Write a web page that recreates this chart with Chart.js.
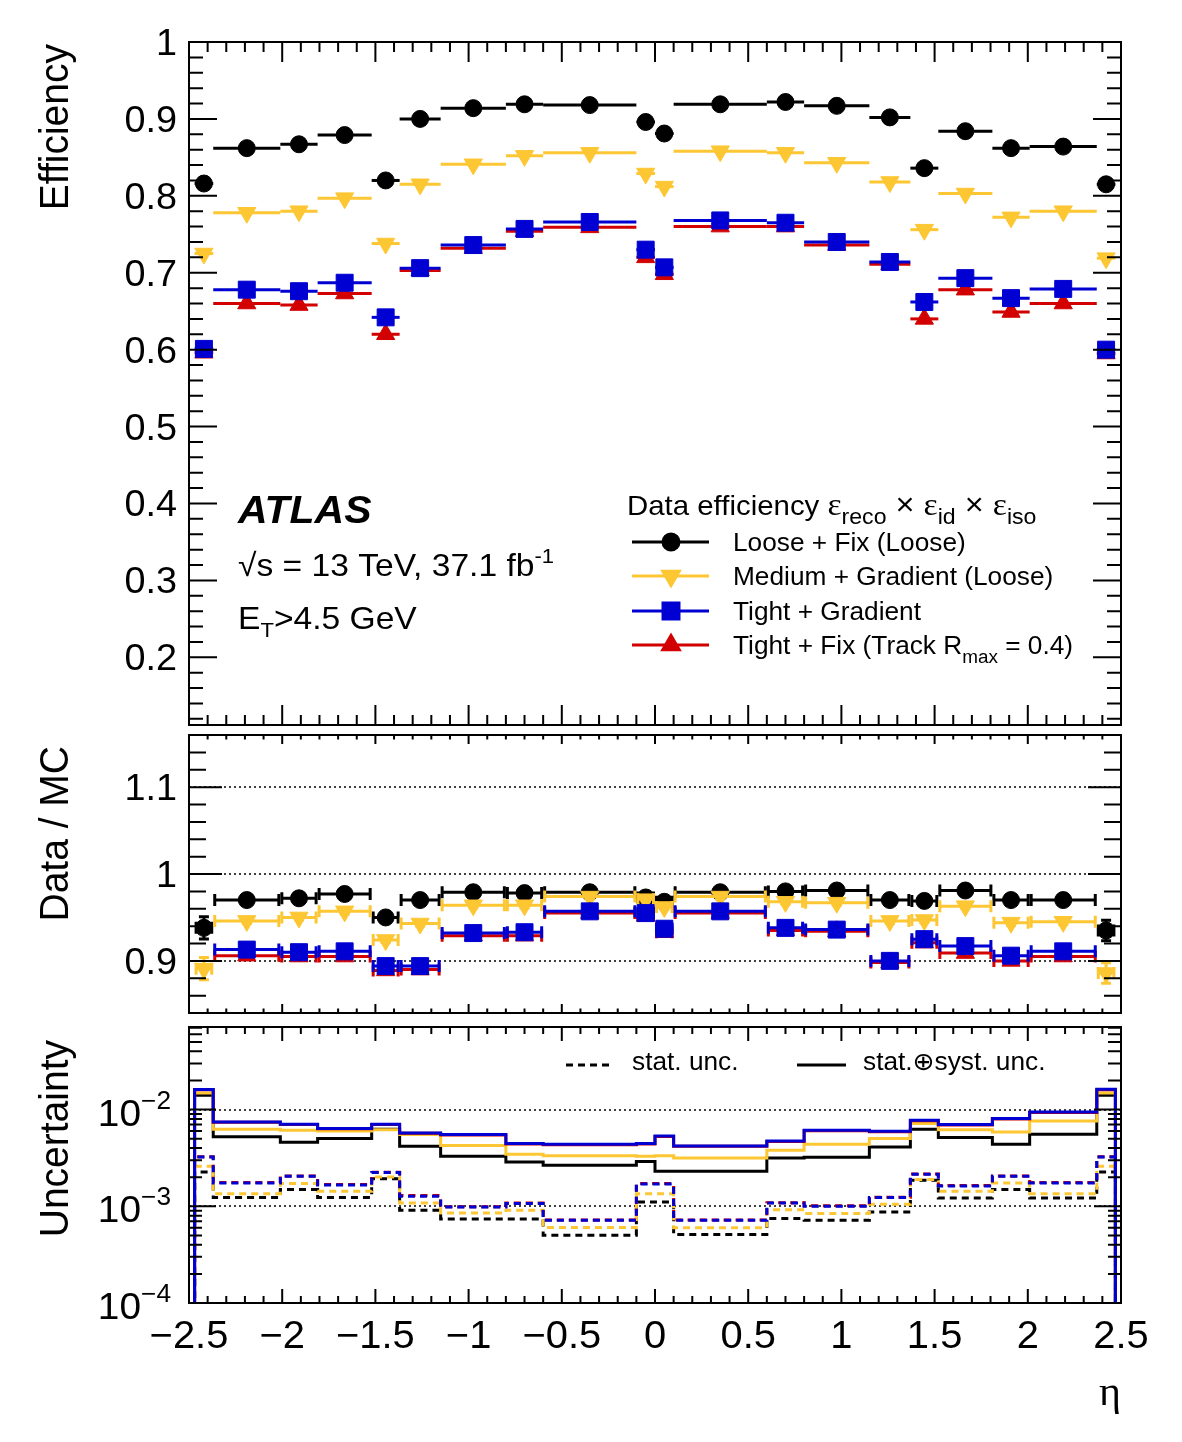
<!DOCTYPE html>
<html>
<head>
<meta charset="utf-8">
<script src="https://cdn.jsdelivr.net/npm/chart.js@4.4.1/dist/chart.umd.min.js"></script>
<style>
html,body{margin:0;padding:0;background:#fff;}
#wrap{position:relative;width:1182px;height:1442px;overflow:hidden;background:#fff;}
canvas{position:absolute;left:0;}
</style>
</head>
<body>
<div id="wrap">
<canvas id="c1" style="top:0px" width="1182" height="730"></canvas>
<canvas id="c2" style="top:730px" width="1182" height="290"></canvas>
<canvas id="c3" style="top:1020px" width="1182" height="422"></canvas>
</div>
<script>
// ---------------- DATA ----------------
const etaEdges = [-2.47,-2.37,-2.01,-1.81,-1.52,-1.37,-1.15,-0.8,-0.6,-0.1,0,0.1,0.6,0.8,1.15,1.37,1.52,1.81,2.01,2.37,2.47];
const etaMin = -2.5, etaMax = 2.5;
const xTickValues = [-2.5,-2,-1.5,-1,-0.5,0,0.5,1,1.5,2,2.5];
const xTickLabels = ['\u22122.5','\u22122','\u22121.5','\u22121','\u22120.5','0','0.5','1','1.5','2','2.5'];
const effTickValues = [0.2,0.3,0.4,0.5,0.6,0.7,0.8,0.9,1];
const effTickLabels = ['0.2','0.3','0.4','0.5','0.6','0.7','0.8','0.9','1'];
const ratioTickValues = [0.9,1,1.1];
const ratioTickLabels = ['0.9','1','1.1'];
const uncTickValues = [1e-4,1e-3,1e-2];
const uncTickExponents = ['\u22124','\u22123','\u22122'];

const seriesLabels = ['Loose + Fix (Loose)','Medium + Gradient (Loose)','Tight + Gradient','Tight + Fix (Track R_max = 0.4)'];

// Data efficiency
const effLoose     = [0.816,0.862,0.867,0.879,0.820,0.900,0.914,0.919,0.918,0.896,0.881,0.919,0.922,0.917,0.902,0.836,0.884,0.862,0.864,0.815];
const effMedium    = [0.725,0.778,0.780,0.797,0.738,0.815,0.841,0.852,0.856,0.829,0.812,0.858,0.856,0.843,0.818,0.756,0.803,0.772,0.780,0.719];
const effTightGrad = [0.601,0.678,0.676,0.687,0.642,0.706,0.736,0.757,0.766,0.730,0.707,0.768,0.765,0.740,0.714,0.662,0.693,0.667,0.679,0.600];
const effTightFix  = [0.596,0.660,0.658,0.673,0.620,0.703,0.732,0.754,0.759,0.720,0.698,0.760,0.760,0.736,0.711,0.640,0.678,0.649,0.660,0.595];

// Data / MC
const sfLoose     = [0.938,0.970,0.972,0.977,0.950,0.970,0.979,0.978,0.979,0.973,0.968,0.979,0.980,0.981,0.970,0.969,0.981,0.970,0.970,0.935];
const sfMedium    = [0.891,0.946,0.950,0.957,0.924,0.943,0.964,0.964,0.974,0.971,0.962,0.974,0.968,0.967,0.946,0.947,0.963,0.944,0.945,0.886];
const sfTightGrad = [null,0.913,0.910,0.911,0.894,0.894,0.932,0.933,0.957,0.955,0.937,0.957,0.938,0.936,0.900,0.925,0.917,0.906,0.911,null];
const sfTightFix  = [null,0.906,0.905,0.905,0.889,0.890,0.929,0.929,0.955,0.952,0.933,0.955,0.935,0.934,0.898,0.921,0.909,0.900,0.905,null];
const sfErrLoose     = [0.014,0.004,0.004,0.004,0.004,0.004,0.004,0.004,0.004,0.004,0.004,0.004,0.004,0.004,0.004,0.004,0.004,0.004,0.004,0.013];
const sfErrMedium    = [0.014,0.004,0.004,0.004,0.004,0.004,0.004,0.004,0.004,0.004,0.004,0.004,0.004,0.004,0.004,0.004,0.004,0.004,0.004,0.013];
const sfErrTightGrad = [null,0.004,0.004,0.004,0.004,0.004,0.004,0.004,0.004,0.004,0.004,0.004,0.004,0.004,0.004,0.004,0.004,0.004,0.004,null];
const sfErrTightFix  = [null,0.004,0.004,0.004,0.004,0.004,0.004,0.004,0.004,0.004,0.004,0.004,0.004,0.004,0.004,0.004,0.004,0.004,0.004,null];

// Uncertainty: stat (+) syst
const uncTotLoose     = [0.0141,0.00522,0.00459,0.00501,0.00625,0.00417,0.00329,0.00287,0.00265,0.0029,0.0023,0.0023,0.00316,0.00321,0.0041,0.00625,0.00513,0.00438,0.00556,0.0141];
const uncTotMedium    = [0.0148,0.00625,0.00611,0.00602,0.0062,0.00551,0.00425,0.00345,0.00334,0.0033,0.00334,0.00316,0.0038,0.00438,0.00501,0.00716,0.0062,0.00586,0.00762,0.0148];
const uncTotTightGrad = [0.0161,0.00745,0.00705,0.00637,0.00705,0.00573,0.00551,0.00445,0.00438,0.00445,0.00534,0.00421,0.00473,0.00611,0.00596,0.00774,0.0070,0.00807,0.00944,0.0162];
const uncTotTightFix  = [0.0160,0.00740,0.00700,0.00632,0.00700,0.00568,0.00546,0.00440,0.00434,0.00440,0.00528,0.00417,0.00468,0.00605,0.00590,0.00766,0.00694,0.00800,0.00935,0.0160];
// Uncertainty: stat only
const uncStatLoose     = [0.00226,0.00123,0.00149,0.00123,0.00193,0.00091,0.00074,0.00074,0.000501,0.00111,0.00111,0.00051,0.000746,0.000716,0.000873,0.00186,0.00122,0.00149,0.00122,0.00226];
const uncStatMedium    = [0.0026,0.00135,0.00172,0.00143,0.00201,0.00108,0.000853,0.00091,0.000603,0.00135,0.00135,0.0006,0.00092,0.00084,0.00105,0.00189,0.00143,0.00174,0.00135,0.0026];
const uncStatTightGrad = [0.00324,0.00174,0.00204,0.00166,0.00223,0.00127,0.000985,0.00107,0.000716,0.0017,0.0017,0.000716,0.00108,0.001,0.00123,0.00214,0.00162,0.00204,0.00174,0.00324];
const uncStatTightFix  = [0.00326,0.00176,0.00206,0.00168,0.00225,0.00129,0.00099,0.00108,0.00072,0.00172,0.00172,0.00072,0.00109,0.00101,0.00124,0.00216,0.00164,0.00206,0.00176,0.00326];
const emptyBin = 1e-6; // empty (zero) bins outside |eta|<2.47

// ---------------- STYLE ----------------
const C_BLACK = '#000000', C_YELLOW = '#fdc633', C_BLUE = '#0000d2', C_RED = '#d20000';
const SX = 1.05;
const SANS = '"Liberation Sans", "DejaVu Sans", Arial, sans-serif';
const SERIF = '"Liberation Serif", "DejaVu Serif", serif';

const styles = [
  {color:C_BLACK, ps:'circle', r:8.5, rot:0, order:3},
  {color:C_YELLOW, ps:'triangle', r:10.5, rot:180, order:2},
  {color:C_BLUE, ps:'rect', r:12, rot:0, order:0},
  {color:C_RED, ps:'triangle', r:10.5, rot:0, order:1}
];

const binLo = etaEdges.slice(0,-1), binHi = etaEdges.slice(1);
const centers = binLo.map((e,i)=>(e+binHi[i])/2);

function drawRich(ctx, x, y, segs, align){
  let total = 0;
  const ws = segs.map(s=>{ctx.font=(s.st||'')+' '+s.s+'px '+(s.f||SANS); const w=ctx.measureText(s.t).width*SX; total+=w; return w;});
  let cx = align==='right' ? x-total : (align==='center' ? x-total/2 : x);
  segs.forEach((s,i)=>{
    ctx.save();
    ctx.font=(s.st||'')+' '+s.s+'px '+(s.f||SANS);
    ctx.textAlign='left'; ctx.textBaseline='alphabetic';
    ctx.translate(cx, y+(s.dy||0)); ctx.scale(SX,1);
    ctx.fillText(s.t,0,0);
    ctx.restore();
    cx += ws[i];
  });
  return total;
}
function vTitle(ctx, text, x, y, size){
  ctx.save();
  ctx.fillStyle='#000';
  ctx.font = size+'px '+SANS;
  ctx.translate(x,y); ctx.scale(SX,1); ctx.rotate(-Math.PI/2);
  ctx.textAlign='right'; ctx.textBaseline='alphabetic';
  ctx.fillText(text,0,0);
  ctx.restore();
}
function marker(ctx, st, x, y){
  ctx.save();
  ctx.fillStyle=st.color; ctx.strokeStyle=st.color;
  Chart.helpers.drawPoint(ctx,{pointStyle:st.ps, radius:st.r, rotation:st.rot, borderWidth:1},x,y);
  ctx.restore();
}

// error bars drawn right before each dataset's markers
const errPlugin = {
  id:'errbars',
  beforeDatasetDraw(chart, args){
    const ds = chart.data.datasets[args.index];
    if(!ds.binLo) return;
    const xs=chart.scales.x, ys=chart.scales.y, ctx=chart.ctx, a=chart.chartArea;
    ctx.save();
    ctx.beginPath(); ctx.rect(a.left,a.top,a.right-a.left,a.bottom-a.top); ctx.clip();
    ctx.strokeStyle=ds.borderColor; ctx.lineWidth=3; ctx.lineCap='butt';
    ds.data.forEach((p,i)=>{
      if(p.y===null||p.y===undefined) return;
      const y=ys.getPixelForValue(p.y);
      const x0=xs.getPixelForValue(ds.binLo[i]), x1=xs.getPixelForValue(ds.binHi[i]);
      ctx.beginPath(); ctx.moveTo(x0,y); ctx.lineTo(x1,y);
      if(ds.capH){
        ctx.moveTo(x0+1.5,y-ds.capH); ctx.lineTo(x0+1.5,y+ds.capH);
        ctx.moveTo(x1-1.5,y-ds.capH); ctx.lineTo(x1-1.5,y+ds.capH);
      }
      if(ds.yErr && ds.yErr[i]){
        const xc=xs.getPixelForValue(p.x);
        const ya=ys.getPixelForValue(p.y+ds.yErr[i]), yb=ys.getPixelForValue(p.y-ds.yErr[i]);
        ctx.moveTo(xc,ya); ctx.lineTo(xc,yb);
        ctx.moveTo(xc-5,ya+1); ctx.lineTo(xc+5,ya+1);
        ctx.moveTo(xc-5,yb-1); ctx.lineTo(xc+5,yb-1);
      }
      ctx.stroke();
    });
    ctx.restore();
  }
};

function makeDeco(cfg){
  return {
    id:'deco',
    beforeDatasetsDraw(chart){
      const ctx=chart.ctx, a=chart.chartArea, ys=chart.scales.y;
      ctx.save();
      ctx.strokeStyle='#000'; ctx.lineWidth=1.5; ctx.setLineDash([2,3]);
      (cfg.dotted||[]).forEach(v=>{const y=Math.round(ys.getPixelForValue(v)); ctx.beginPath(); ctx.moveTo(a.left,y); ctx.lineTo(a.right,y); ctx.stroke();});
      ctx.restore();
    },
    afterDatasetsDraw(chart){
      const ctx=chart.ctx, a=chart.chartArea, xs=chart.scales.x, ys=chart.scales.y;
      ctx.save();
      ctx.setLineDash([]);
      ctx.strokeStyle='#000'; ctx.lineWidth=2;
      ctx.beginPath();
      for(let k=-25;k<=25;k++){
        const x=xs.getPixelForValue(k/10);
        const L=(k%5===0)?cfg.xTick[0]:cfg.xTick[1];
        ctx.moveTo(x,a.top); ctx.lineTo(x,a.top+L);
        ctx.moveTo(x,a.bottom); ctx.lineTo(x,a.bottom-L);
      }
      cfg.yMajor.forEach(v=>{const y=ys.getPixelForValue(v); ctx.moveTo(a.left,y); ctx.lineTo(a.left+cfg.yTick[0],y); ctx.moveTo(a.right,y); ctx.lineTo(a.right-cfg.yTick[0],y);});
      cfg.yMinor.forEach(v=>{const y=ys.getPixelForValue(v); ctx.moveTo(a.left,y); ctx.lineTo(a.left+cfg.yTick[1],y); ctx.moveTo(a.right,y); ctx.lineTo(a.right-cfg.yTick[1],y);});
      ctx.stroke();
      ctx.strokeRect(a.left,a.top,a.right-a.left,a.bottom-a.top);
      ctx.fillStyle='#000';
      if(cfg.yLabels) cfg.yLabels.forEach(l=>{const y=ys.getPixelForValue(l.v); drawRich(ctx,177,y+13,[{t:l.t,s:36}],'right');});
      if(cfg.extra) cfg.extra(ctx,chart);
      ctx.restore();
    }
  };
}

function pointDs(i, vals, errs, capH){
  const st=styles[i];
  return {
    label: seriesLabels[i],
    data: vals.map((v,k)=>({x:centers[k], y:v})),
    backgroundColor: st.color, borderColor: st.color,
    pointStyle: st.ps, pointRadius: st.r, pointRotation: st.rot, pointBorderWidth: 1,
    pointHoverRadius: st.r, showLine:false, order: st.order,
    binLo: binLo, binHi: binHi, yErr: errs, capH: capH
  };
}
function histPoints(vals){
  const pts=[{x:etaMin,y:emptyBin},{x:etaEdges[0],y:emptyBin}];
  vals.forEach((v,i)=>{pts.push({x:etaEdges[i],y:v}); pts.push({x:etaEdges[i+1],y:v});});
  pts.push({x:etaEdges[etaEdges.length-1],y:emptyBin}); pts.push({x:etaMax,y:emptyBin});
  return pts;
}
function histDs(i, vals, dashed){
  const st=styles[i];
  return {
    label: seriesLabels[i]+(dashed?' stat':' total'),
    data: histPoints(vals), borderColor: st.color, backgroundColor: st.color,
    borderWidth: 3, borderDash: dashed?[7,5]:[], pointRadius:0, showLine:true, tension:0,
    order: st.order, fill:false
  };
}

const baseOpts = (pad, ymin, ymax, ytype) => ({
  responsive:false, animation:false, events:[],
  layout:{padding:pad, autoPadding:false},
  scales:{
    x:{type:'linear', min:etaMin, max:etaMax, display:false},
    y:{type:ytype||'linear', min:ymin, max:ymax, display:false}
  },
  plugins:{legend:{display:false}, tooltip:{enabled:false}}
});

function range(k0,k1,step,skip){const r=[];for(let k=k0;k<=k1;k++){if(skip&&skip(k))continue;r.push(+(k*step).toFixed(4));}return r;}

// ---------------- PANEL 1 ----------------
new Chart(document.getElementById('c1'),{
  type:'scatter',
  data:{datasets:[
    pointDs(0,effLoose,null,0), pointDs(1,effMedium,null,0),
    pointDs(2,effTightGrad,null,0), pointDs(3,effTightFix,null,0)
  ]},
  options: baseOpts({left:189,right:61,top:42,bottom:5},0.112,1),
  plugins:[errPlugin, makeDeco({
    xTick:[20,10], yTick:[28,14],
    yMajor: effTickValues, yMinor: range(6,49,0.02,k=>k%5===0),
    yLabels: effTickValues.map((v,i)=>({v:v,t:effTickLabels[i]})),
    extra(ctx){
      vTitle(ctx,'Efficiency',68,44,39);
      drawRich(ctx,238,523,[{t:'ATLAS',s:39,st:'italic bold'}],'left');
      drawRich(ctx,238,576,[{t:'\u221As = 13 TeV, 37.1 fb',s:32},{t:'-1',s:21,dy:-13}],'left');
      drawRich(ctx,238,629,[{t:'E',s:32},{t:'T',s:21,dy:8},{t:'>4.5 GeV',s:32}],'left');
      // legend
      drawRich(ctx,627,515,[
        {t:'Data efficiency ',s:28},{t:'\u03B5',s:32,f:SERIF},{t:'reco',s:22,dy:9},
        {t:' \u00D7 ',s:31},{t:'\u03B5',s:32,f:SERIF},{t:'id',s:22,dy:9},
        {t:' \u00D7 ',s:31},{t:'\u03B5',s:32,f:SERIF},{t:'iso',s:22,dy:9}],'left');
      const rows=[542,576,611,645];
      rows.forEach((y,i)=>{
        ctx.save(); ctx.strokeStyle=styles[i].color; ctx.lineWidth=3;
        ctx.beginPath(); ctx.moveTo(632,y); ctx.lineTo(709,y); ctx.stroke(); ctx.restore();
        marker(ctx,styles[i],671,y);
        ctx.fillStyle='#000';
        if(i===3){
          drawRich(ctx,733,y+9,[{t:'Tight + Fix (Track R',s:25},{t:'max',s:18,dy:9},{t:' = 0.4)',s:25}],'left');
        } else {
          drawRich(ctx,733,y+9,[{t:seriesLabels[i],s:25}],'left');
        }
      });
    }
  })]
});

// ---------------- PANEL 2 ----------------
new Chart(document.getElementById('c2'),{
  type:'scatter',
  data:{datasets:[
    pointDs(0,sfLoose,sfErrLoose,6), pointDs(1,sfMedium,sfErrMedium,6),
    pointDs(2,sfTightGrad,sfErrTightGrad,6), pointDs(3,sfTightFix,sfErrTightFix,6)
  ]},
  options: baseOpts({left:189,right:61,top:5,bottom:7},0.84,1.16),
  plugins:[errPlugin, makeDeco({
    xTick:[9,4.5], yTick:[33,17],
    yMajor: ratioTickValues, yMinor: range(43,57,0.02,k=>k%5===0),
    dotted: ratioTickValues,
    yLabels: ratioTickValues.map((v,i)=>({v:v,t:ratioTickLabels[i]})),
    extra(ctx){ vTitle(ctx,'Data / MC',68,16,39); }
  })]
});

// ---------------- PANEL 3 ----------------
const logMinor=[]; [-4,-3,-2].forEach(e=>{for(let m=2;m<=9;m++){const v=m*Math.pow(10,e); if(v<0.0714) logMinor.push(v);}});
new Chart(document.getElementById('c3'),{
  type:'scatter',
  data:{datasets:[
    histDs(0,uncTotLoose,false), histDs(1,uncTotMedium,false),
    histDs(2,uncTotTightGrad,false), histDs(3,uncTotTightFix,false),
    histDs(0,uncStatLoose,true), histDs(1,uncStatMedium,true),
    histDs(2,uncStatTightGrad,true), histDs(3,uncStatTightFix,true)
  ]},
  options: baseOpts({left:189,right:61,top:7,bottom:139},1e-4,0.0714,'logarithmic'),
  plugins:[makeDeco({
    xTick:[14,7], yTick:[27,13],
    yMajor: uncTickValues, yMinor: logMinor,
    dotted: [1e-3,1e-2],
    extra(ctx,chart){
      const xs=chart.scales.x, ys=chart.scales.y;
      vTitle(ctx,'Uncertainty',68,20,39);
      uncTickValues.forEach((v,i)=>{
        const y=ys.getPixelForValue(v);
        drawRich(ctx,171,y+16,[{t:'10',s:37},{t:uncTickExponents[i],s:25,dy:-17}],'right');
      });
      xTickValues.forEach((v,i)=>{
        drawRich(ctx,xs.getPixelForValue(v),328,[{t:xTickLabels[i],s:38}],'center');
      });
      drawRich(ctx,1121,385,[{t:'\u03B7',s:40,f:SERIF}],'right');
      // uncertainty legend
      ctx.save(); ctx.strokeStyle='#000'; ctx.lineWidth=3;
      ctx.setLineDash([7,5]); ctx.beginPath(); ctx.moveTo(566,45); ctx.lineTo(612,45); ctx.stroke();
      ctx.setLineDash([]); ctx.beginPath(); ctx.moveTo(797,45); ctx.lineTo(846,45); ctx.stroke();
      ctx.restore();
      drawRich(ctx,632,50,[{t:'stat. unc.',s:25}],'left');
      drawRich(ctx,863,50,[{t:'stat.\u2295syst. unc.',s:25}],'left');
    }
  })]
});
</script>
</body>
</html>
